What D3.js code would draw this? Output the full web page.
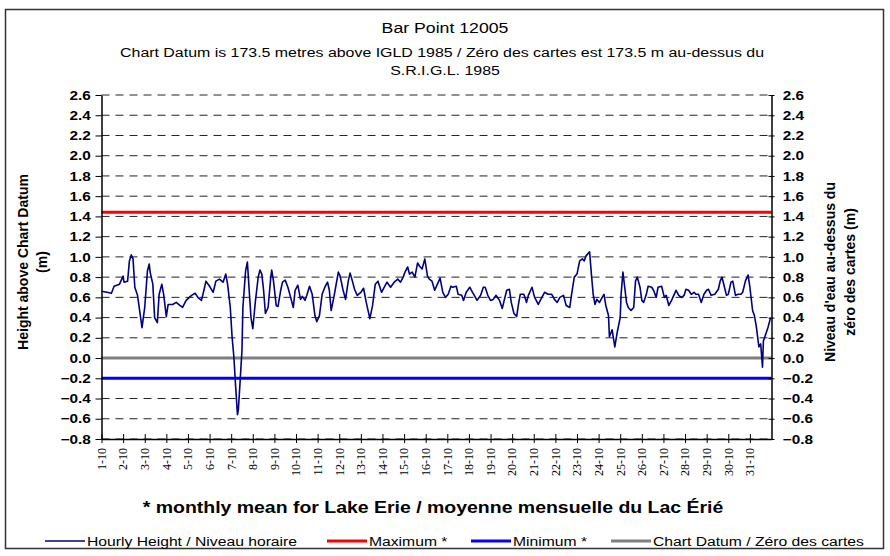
<!DOCTYPE html>
<html lang="en">
<head>
    <meta charset="utf-8">
    <title>Bar Point 12005</title>
    <script type="text/javascript" src="https://cdn.jsdelivr.net/npm/d3@7/dist/d3.min.js"></script>
    <style>
        body { margin: 0; background: #fff; }
        text { font-family: Arial, "Liberation Sans", sans-serif; fill: #000; }
        .serif text { font-family: "Times New Roman", "Liberation Serif", serif; }
    </style>
</head>
<body>
<script type="text/javascript">

    // hours since 1 Oct 2005 00:00
    var hours = [0, 6, 11, 14, 20, 24, 25, 29, 31, 33, 35, 37, 40, 45, 48, 51, 53, 54, 57, 59,
        62, 64, 67, 69, 72, 74, 79, 83, 87, 90, 94, 100, 104, 107, 111, 114, 116, 120, 124, 127,
        131, 135, 138, 140, 143, 145, 147, 149, 151, 152, 154, 156, 157, 160, 162, 164, 166, 168, 171, 174,
        176, 178, 180, 182, 185, 188, 189, 191, 194, 196, 199, 201, 204, 207, 210, 213, 215, 218, 221, 223,
        226, 228, 231, 234, 237, 239, 242, 245, 248, 251, 253, 255, 258, 260, 263, 265, 268, 271, 274, 276,
        278, 281, 284, 288, 291, 294, 298, 301, 304, 307, 311, 314, 317, 321, 325, 329, 332, 335, 337, 340,
        342, 345, 348, 351, 353, 356, 359, 362, 364, 367, 370, 373, 376, 379, 382, 385, 388, 390, 394, 396,
        400, 402, 405, 409, 412, 414, 417, 421, 424, 426, 429, 432, 435, 438, 442, 445, 448, 450, 453, 455,
        458, 461, 463, 465, 469, 472, 474, 478, 481, 485, 489, 492, 496, 500, 503, 506, 509, 513, 516, 520,
        522, 525, 528, 531, 534, 536, 538, 540, 542, 544, 546, 548, 550, 553, 556, 558, 560, 563, 564, 567,
        570, 573, 576, 577, 579, 581, 583, 585, 588, 591, 593, 595, 598, 600, 602, 605, 607, 611, 613, 616,
        618, 622, 625, 627, 630, 633, 636, 638, 641, 644, 647, 649, 652, 655, 658, 660, 663, 666, 669, 672,
        674, 677, 681, 685, 687, 689, 691, 694, 696, 699, 701, 704, 707, 710, 712, 715, 718, 720, 723, 725,
        727, 730, 732, 734, 735, 737, 740, 743];

    // hourly height above chart datum (m)
    var heights = [0.66, 0.65, 0.64, 0.71, 0.73, 0.81, 0.75, 0.76, 0.96, 1.02, 0.98, 0.70, 0.62, 0.30, 0.50, 0.86, 0.93, 0.85, 0.73, 0.40,
        0.35, 0.63, 0.73, 0.63, 0.41, 0.53, 0.53, 0.55, 0.52, 0.50, 0.57, 0.62, 0.64, 0.60, 0.57, 0.68, 0.76, 0.71, 0.65, 0.76,
        0.78, 0.75, 0.83, 0.73, 0.50, 0.21, 0.01, -0.29, -0.56, -0.51, -0.22, 0.08, 0.50, 0.86, 0.95, 0.67, 0.40, 0.29, 0.57, 0.80,
        0.87, 0.83, 0.67, 0.44, 0.50, 0.80, 0.87, 0.76, 0.52, 0.51, 0.67, 0.75, 0.77, 0.70, 0.60, 0.50, 0.67, 0.72, 0.58, 0.61,
        0.57, 0.62, 0.71, 0.63, 0.42, 0.36, 0.42, 0.63, 0.70, 0.75, 0.67, 0.47, 0.60, 0.70, 0.85, 0.81, 0.68, 0.58, 0.76, 0.84,
        0.78, 0.68, 0.62, 0.65, 0.69, 0.55, 0.39, 0.52, 0.73, 0.76, 0.65, 0.70, 0.75, 0.70, 0.75, 0.78, 0.75, 0.80, 0.85, 0.90,
        0.83, 0.85, 0.80, 0.94, 0.91, 0.88, 0.98, 0.81, 0.78, 0.76, 0.67, 0.73, 0.79, 0.65, 0.60, 0.63, 0.71, 0.70, 0.71, 0.63,
        0.62, 0.57, 0.65, 0.70, 0.65, 0.62, 0.57, 0.62, 0.70, 0.70, 0.62, 0.57, 0.58, 0.62, 0.57, 0.49, 0.60, 0.67, 0.68, 0.55,
        0.44, 0.41, 0.53, 0.63, 0.63, 0.55, 0.62, 0.70, 0.60, 0.53, 0.60, 0.65, 0.63, 0.63, 0.58, 0.55, 0.60, 0.62, 0.52, 0.50,
        0.63, 0.80, 0.83, 0.96, 0.98, 0.96, 1.01, 1.03, 1.05, 0.83, 0.63, 0.53, 0.58, 0.55, 0.60, 0.63, 0.52, 0.42, 0.21, 0.28,
        0.11, 0.27, 0.40, 0.63, 0.85, 0.70, 0.55, 0.50, 0.47, 0.50, 0.76, 0.80, 0.70, 0.57, 0.55, 0.63, 0.71, 0.70, 0.67, 0.60,
        0.70, 0.71, 0.60, 0.62, 0.52, 0.57, 0.63, 0.67, 0.62, 0.60, 0.62, 0.68, 0.67, 0.63, 0.65, 0.63, 0.63, 0.55, 0.63, 0.67,
        0.68, 0.62, 0.63, 0.68, 0.76, 0.80, 0.73, 0.62, 0.63, 0.75, 0.76, 0.62, 0.63, 0.63, 0.65, 0.76, 0.82, 0.70, 0.47, 0.42,
        0.32, 0.11, 0.14, -0.09, 0.17, 0.22, 0.30, 0.40];

    var maxLevel = 1.44;     // monthly mean maximum
    var minLevel = -0.2;     // monthly mean minimum
    var datumLevel = 0.0;    // chart datum

    var yTicks = [-0.8, -0.6, -0.4, -0.2, 0.0, 0.2, 0.4, 0.6, 0.8, 1.0, 1.2, 1.4, 1.6, 1.8, 2.0, 2.2, 2.4, 2.6];
    var dayLabels = ["1-10", "2-10", "3-10", "4-10", "5-10", "6-10", "7-10", "8-10", "9-10", "10-10",
        "11-10", "12-10", "13-10", "14-10", "15-10", "16-10", "17-10", "18-10", "19-10", "20-10",
        "21-10", "22-10", "23-10", "24-10", "25-10", "26-10", "27-10", "28-10", "29-10", "30-10", "31-10"];

    var title = "Bar Point 12005";
    var subtitle = ["Chart Datum is 173.5 metres above IGLD 1985 / Zéro des cartes est 173.5 m au-dessus du",
        "S.R.I.G.L. 1985"];
    var leftTitle = ["Height above Chart Datum", "(m)"];
    var rightTitle = ["Niveau d'eau au-dessus du", "zéro des cartes (m)"];
    var xTitle = "* monthly mean for Lake Erie / moyenne mensuelle du Lac Érié";
    var legendLabels = ["Hourly Height / Niveau horaire", "Maximum *", "Minimum *", "Chart Datum / Zéro des cartes"];

    var W = 890, H = 556;
    var margin = {top: 95, right: 118.5, bottom: 117, left: 101.5},
        w = W - margin.left - margin.right,
        h = H - margin.top - margin.bottom;

    var sx = 1.18;   // the original text is a bit wider than plain Arial
    var colors = {hourly: "#000080", max: "#ff0000", min: "#0000ff", datum: "#808080"};

    var parseDay = d3.timeParse("%d-%m-%Y");
    var start = new Date(2005, 9, 1);
    var end = new Date(2005, 10, 1);

    var data = hours.map(function (hr, i) {
        return {time: d3.timeHour.offset(start, hr), height: heights[i]};
    });

    var svg = d3.select("body").append("svg")
        .attr("width", W)
        .attr("height", H);

    // outer frame
    svg.append("rect")
        .attr("x", 5.5).attr("y", 9.5)
        .attr("width", 878).attr("height", 539)
        .attr("fill", "none")
        .attr("stroke", "#333")
        .attr("stroke-width", 1.5);

    function wideText(x, y, str, size, weight) {
        return svg.append("text")
            .attr("transform", "translate(" + x + "," + y + ") scale(" + sx + ",1)")
            .attr("text-anchor", "middle")
            .style("font-size", size + "px")
            .style("font-weight", weight || "normal")
            .text(str);
    }

    wideText(445, 33, title, 15);
    wideText(442, 57, subtitle[0], 13.5);
    wideText(445, 75, subtitle[1], 13.5);
    wideText(433, 513, xTitle, 16.5, "bold");

    var g = svg.append("g")
        .attr("transform", "translate(" + margin.left + "," + margin.top + ")");

    var xScale = d3.scaleTime().domain([start, end]).range([0, w]);
    var yScale = d3.scaleLinear().domain([-0.8, 2.6]).range([h, 0]);

    //dashed gridlines
    g.selectAll(".grid")
        .data(yTicks)
        .enter()
        .append("line")
        .attr("class", "grid")
        .attr("x1", 0).attr("x2", w)
        .attr("y1", function (d) { return yScale(d); })
        .attr("y2", function (d) { return yScale(d); })
        .attr("stroke", "#222")
        .attr("stroke-width", 1)
        .attr("stroke-dasharray", "8,6");

    // max / min / chart datum lines
    var levels = [
        {value: maxLevel, color: colors.max},
        {value: minLevel, color: colors.min},
        {value: datumLevel, color: colors.datum}
    ];
    g.selectAll(".level")
        .data(levels)
        .enter()
        .append("line")
        .attr("class", "level")
        .attr("x1", xScale(start)).attr("x2", xScale(end))
        .attr("y1", function (d) { return yScale(d.value); })
        .attr("y2", function (d) { return yScale(d.value); })
        .attr("stroke", function (d) { return d.color; })
        .attr("stroke-width", 3);

    //hourly line
    var line = d3.line()
        .x(function (d) { return xScale(d.time); })
        .y(function (d) { return yScale(d.height); });

    g.append("path")
        .datum(data)
        .attr("d", line)
        .attr("fill", "none")
        .attr("stroke", colors.hourly)
        .attr("stroke-width", 1.6)
        .attr("stroke-linejoin", "round");

    //Axes
    var yFormat = d3.format(".1f");

    var leftAxis = g.append("g")
        .call(d3.axisLeft(yScale).tickValues(yTicks).tickFormat(yFormat).tickSize(6).tickSizeOuter(0).tickPadding(3));
    leftAxis.selectAll("text")
        .attr("transform", "scale(" + sx + ",1)")
        .style("font-size", "13px")
        .style("font-weight", "bold");

    var rightAxis = g.append("g")
        .attr("transform", "translate(" + w + ",0)")
        .call(d3.axisRight(yScale).tickValues(yTicks).tickFormat(yFormat).tickSize(3).tickSizeOuter(0).tickPadding(6.5));
    rightAxis.selectAll(".tick line").attr("x1", -3);
    rightAxis.selectAll("text")
        .attr("transform", "scale(" + sx + ",1)")
        .style("font-size", "13px")
        .style("font-weight", "bold");

    var xAxis = g.append("g")
        .attr("class", "serif")
        .attr("transform", "translate(0," + h + ")")
        .call(d3.axisBottom(xScale)
            .tickValues(dayLabels.map(function (s) { return parseDay(s + "-2005"); }))
            .tickFormat(d3.timeFormat("%-d-%m"))
            .tickSizeOuter(0));
    xAxis.selectAll(".tick line").attr("y1", -5).attr("y2", 4);
    xAxis.selectAll("text")
        .attr("transform", "rotate(-90)")
        .attr("x", -9)
        .attr("y", 0)
        .attr("dy", "0.32em")
        .style("text-anchor", "end")
        .style("font-size", "12px");

    [leftAxis, rightAxis, xAxis].forEach(function (a) {
        a.select(".domain").attr("stroke", "#000").attr("stroke-width", 1.5);
        a.selectAll(".tick line").attr("stroke", "#000");
    });

    // axis titles
    leftTitle.forEach(function (t, i) {
        svg.append("text")
            .attr("transform", "translate(" + (23 + i * 19) + ",262) rotate(-90)")
            .attr("text-anchor", "middle")
            .attr("dy", "0.35em")
            .style("font-size", "14px")
            .style("font-weight", "bold")
            .text(t);
    });
    rightTitle.forEach(function (t, i) {
        svg.append("text")
            .attr("transform", "translate(" + (830 + i * 20) + ",272) rotate(-90)")
            .attr("text-anchor", "middle")
            .attr("dy", "0.35em")
            .style("font-size", "14px")
            .style("font-weight", "bold")
            .text(t);
    });

    // legend
    var legendStyles = [
        {color: colors.hourly, width: 1.6},
        {color: colors.max, width: 3},
        {color: colors.min, width: 3},
        {color: colors.datum, width: 3}
    ];
    var legendX = [45, 327, 471, 611];
    var ly = 541;
    legendLabels.forEach(function (label, i) {
        var lx = legendX[i];
        svg.append("line")
            .attr("x1", lx).attr("x2", lx + 40)
            .attr("y1", ly).attr("y2", ly)
            .attr("stroke", legendStyles[i].color)
            .attr("stroke-width", legendStyles[i].width);
        svg.append("text")
            .attr("transform", "translate(" + (lx + 42) + "," + (ly + 4.5) + ") scale(" + sx + ",1)")
            .style("font-size", "13.3px")
            .text(label);
    });

</script>
</body>
</html>
